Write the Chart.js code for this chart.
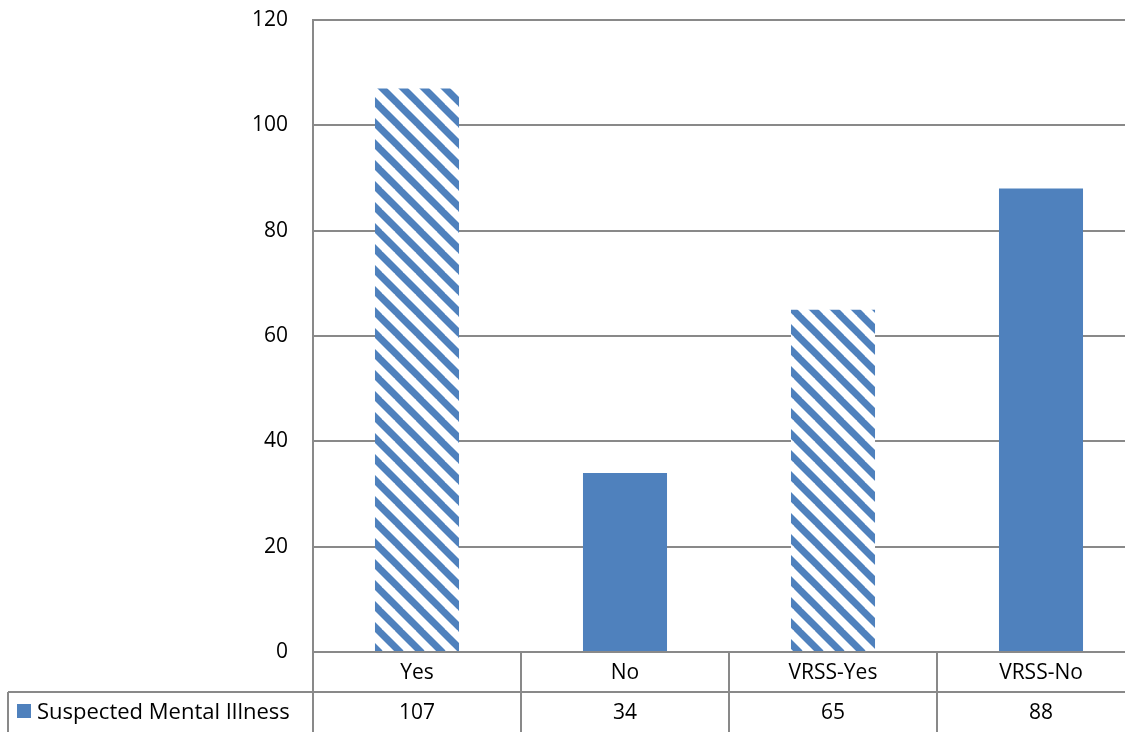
<!DOCTYPE html>
<html>
<head>
<meta charset="utf-8">
<script src="https://cdn.jsdelivr.net/npm/chart.js@4.4.1/dist/chart.umd.min.js"></script>
<style>
  html, body { margin: 0; padding: 0; background: #fff; overflow: hidden; }
  #wrap { width: 1125px; height: 732px; overflow: hidden; }
</style>
</head>
<body>
<div id="wrap"><canvas id="chart" width="1145" height="732"></canvas></div>
<script>
const categories = ['Yes', 'No', 'VRSS-Yes', 'VRSS-No'];
const seriesName = 'Suspected Mental Illness';
const values = [107, 34, 65, 88];
const hatched = [true, false, true, false];
const yTicks = [0, 20, 40, 60, 80, 100, 120];

const blue = '#4F81BD';
const lineGray = '#898989';
const font = '"Open Sans", "Noto Sans", sans-serif';

// diagonal stripes like the Excel "wide downward diagonal" fill
function makeHatch() {
  const p = 21;
  const c = document.createElement('canvas');
  c.width = p; c.height = p;
  const g = c.getContext('2d');
  g.fillStyle = '#fff';
  g.fillRect(0, 0, p, p);
  g.strokeStyle = blue;
  g.lineWidth = 7;
  for (let k = -1; k <= 1; k++) {
    g.beginPath();
    g.moveTo(k * p - 2, -2);
    g.lineTo(k * p + p + 2, p + 2);
    g.stroke();
  }
  return g.createPattern(c, 'repeat');
}
const hatch = makeHatch();

const dataTable = {
  id: 'dataTable',
  afterDraw(chart) {
    const ctx = chart.ctx;
    const area = chart.chartArea;
    const x = chart.scales.x;
    const rowH = 40;
    const top = area.bottom;
    const mid = top + rowH;
    ctx.save();
    ctx.strokeStyle = lineGray;
    ctx.lineWidth = 2;
    // row separator + left border of legend cell
    ctx.beginPath();
    ctx.moveTo(8, mid); ctx.lineTo(area.right, mid);
    ctx.moveTo(8, mid); ctx.lineTo(8, mid + rowH + 10);
    ctx.moveTo(area.left, area.top); ctx.lineTo(area.left, mid + rowH + 10);
    const step = (area.right - area.left) / categories.length;
    for (let i = 1; i < categories.length; i++) {
      const xx = area.left + step * i;
      ctx.moveTo(xx, top); ctx.lineTo(xx, mid + rowH + 10);
    }
    ctx.stroke();

    ctx.fillStyle = '#000';
    ctx.font = '21px ' + font;
    ctx.textAlign = 'center';
    ctx.textBaseline = 'middle';
    categories.forEach((c, i) => {
      const cx = x.getPixelForValue(i);
      ctx.fillText(c, cx, top + rowH / 2 + 1);
      ctx.fillText(String(values[i]), cx, mid + rowH / 2 + 1);
    });

    ctx.fillStyle = blue;
    ctx.fillRect(17, mid + 12, 14, 14);
    ctx.fillStyle = '#000';
    ctx.textAlign = 'left';
    ctx.font = '22px ' + font;
    ctx.fillText(seriesName, 37, mid + rowH / 2 + 1);
    ctx.restore();
  }
};

new Chart(document.getElementById('chart'), {
  type: 'bar',
  data: {
    labels: categories,
    datasets: [{
      label: seriesName,
      data: values,
      backgroundColor: values.map((v, i) => hatched[i] ? hatch : blue),
      borderWidth: 0,
      categoryPercentage: 1,
      barPercentage: 0.404
    }]
  },
  options: {
    responsive: false,
    animation: false,
    devicePixelRatio: 1,
    layout: { padding: { top: 20, bottom: 80, left: 0, right: 0 } },
    plugins: { legend: { display: false }, tooltip: { enabled: false } },
    scales: {
      x: { display: false },
      y: {
        min: 0, max: 120,
        afterBuildTicks(scale) { scale.ticks = yTicks.map(v => ({ value: v })); },
        afterFit(scale) {
          scale.width = 313;
          scale.paddingTop = 0;
          scale.paddingBottom = 0;
        },
        grid: { color: lineGray, lineWidth: 2, drawTicks: false },
        border: { display: true, color: lineGray, width: 2 },
        ticks: { padding: 25, color: '#000', font: { family: font, size: 21 } }
      }
    }
  },
  plugins: [dataTable]
});
</script>
</body>
</html>
